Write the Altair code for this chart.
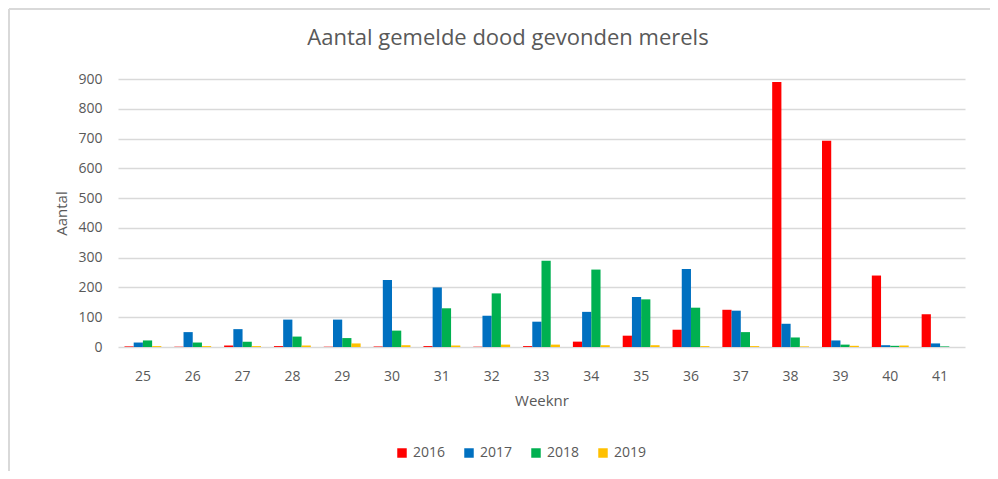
import altair as alt
import pandas as pd

weeks = list(range(25, 42))
years = ["2016", "2017", "2018", "2019"]
colors = ["#FF0000", "#0070C0", "#00B050", "#FFC000"]

v2016 = [2, 1, 5, 3, 1, 2, 3, 1, 3, 18, 38, 58, 125, 890, 693, 240, 110]
v2017 = [15, 50, 60, 92, 92, 225, 200, 105, 85, 118, 168, 262, 122, 78, 22, 6, 12]
v2018 = [22, 15, 18, 35, 30, 55, 130, 180, 290, 260, 160, 132, 50, 32, 8, 4, 2]
v2019 = [3, 3, 3, 5, 12, 6, 5, 8, 8, 6, 6, 3, 3, 2, 4, 5, 0]
title_text = ["Aantal gemelde dood gevonden merels"]

rows = []
for yr, vals in zip(years, [v2016, v2017, v2018, v2019]):
    for w, v in zip(weeks, vals):
        rows.append({"week": w, "year": yr, "n": v})
df = pd.DataFrame(rows)

FONT = "Open Sans"
GREY = "#595959"

bars = alt.Chart(df).mark_bar().encode(
    x=alt.X("week:O", title="Weeknr",
            scale=alt.Scale(paddingInner=0.26, paddingOuter=0.13),
            axis=alt.Axis(labelAngle=0, labelPadding=22, titlePadding=10,
                          ticks=False, domain=False, grid=False)),
    xOffset=alt.XOffset("year:N", scale=alt.Scale(domain=years)),
    y=alt.Y("n:Q", title="Aantal", scale=alt.Scale(domain=[0, 900], nice=False),
            axis=alt.Axis(values=list(range(0, 1000, 100)), labelPadding=16,
                          titlePadding=8, ticks=False, domain=False,
                          gridColor="#d9d9d9", gridWidth=1.5)),
    color=alt.Color("year:N", scale=alt.Scale(domain=years, range=colors),
                    legend=alt.Legend(title=None, orient="none", direction="horizontal",
                                      legendX=277, legendY=367, symbolType="square",
                                      symbolSize=90, symbolStrokeWidth=0,
                                      labelFontSize=14, labelColor=GREY, labelFont=FONT,
                                      columnPadding=16, symbolOffset=0)),
)

one = pd.DataFrame({"t": title_text})
border = alt.Chart(one).mark_rule(color="#d9d9d9", strokeWidth=2)
top_border = border.encode(x=alt.value(-109), x2=alt.value(880), y=alt.value(-70))
left_border = border.encode(x=alt.value(-109), y=alt.value(-70), y2=alt.value(400))

title = alt.Chart(one).mark_text(fontSize=22, font=FONT, color=GREY, align="center",
                                 baseline="middle").encode(
    text="t:N", x=alt.value(390), y=alt.value(-41))

chart = alt.layer(top_border, left_border, bars, title).properties(
    width=847, height=268,
    autosize=alt.AutoSizeParams(type="none"),
    padding={"left": 110, "top": 71, "right": 25, "bottom": 124},
).configure_view(stroke=None).configure_axis(
    labelFont=FONT, titleFont=FONT, labelColor=GREY, titleColor=GREY,
    labelFontSize=14, titleFontSize=15, titleFontWeight="normal",
)

chart.save("out.html", embed_options={"renderer": "svg", "actions": False})
